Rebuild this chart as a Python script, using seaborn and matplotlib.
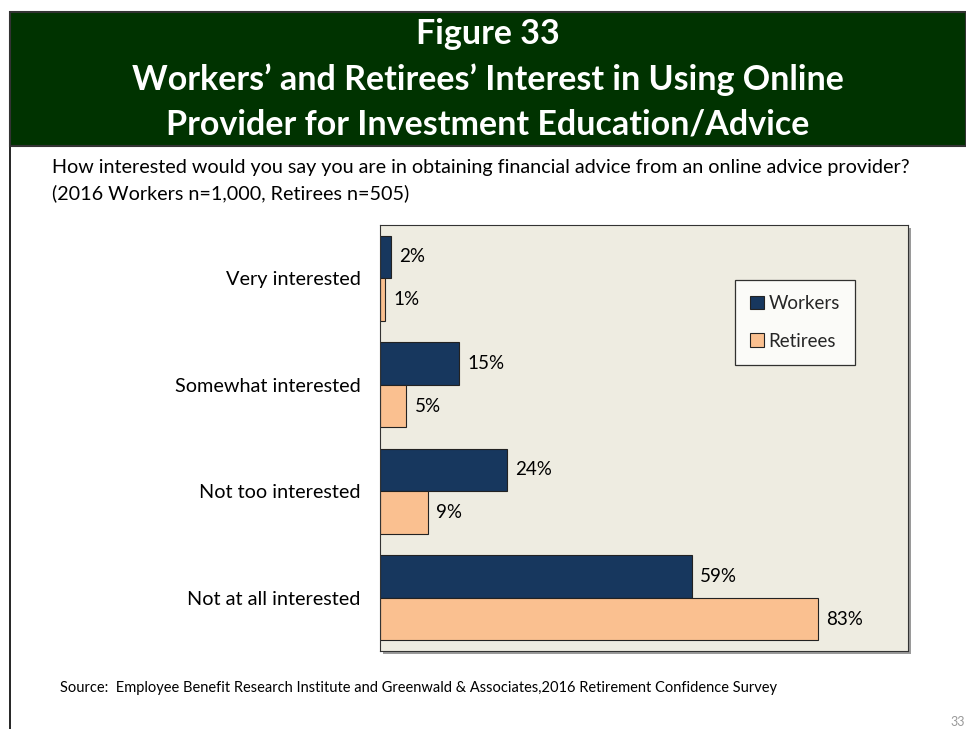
import matplotlib
matplotlib.use("Agg")
import matplotlib.pyplot as plt
import seaborn as sns
import pandas as pd
from matplotlib.patches import Rectangle
from matplotlib.lines import Line2D

categories = ["Very interested", "Somewhat interested", "Not too interested", "Not at all interested"]
workers = [2, 15, 24, 59]
retirees = [1, 5, 9, 83]
series = ["Workers", "Retirees"]
colors = {"Workers": "#17375E", "Retirees": "#FAC090"}

df = pd.DataFrame({
    "category": categories * 2,
    "value": workers + retirees,
    "group": ["Workers"] * len(categories) + ["Retirees"] * len(categories),
})

sns.set_theme(style="white")
plt.rcParams['font.family'] = ['Lato', 'DejaVu Sans']

W, H = 966, 729
fig = plt.figure(figsize=(W / 100, H / 100), dpi=100)
fig.patch.set_facecolor("white")

def fx(x): return x / W
def fy(y): return 1 - y / H

# Title band
fig.patches.append(Rectangle((fx(10), fy(146)), fx(956), (134) / H, transform=fig.transFigure,
                             facecolor="#003300", edgecolor="#333333", linewidth=1.5, zorder=-2))
fig.lines.append(Line2D([fx(10), fx(10)], [fy(146), 0], transform=fig.transFigure, color="black",
                        linewidth=1.2, zorder=-2))

fig.text(fx(488), fy(34), "Figure 33", ha="center", va="center", color="white", fontsize=24.5, fontweight="bold")
fig.text(fx(488), fy(80), "Workers\u2019 and Retirees\u2019 Interest in Using Online", ha="center", va="center",
         color="white", fontsize=24.5, fontweight="bold")
fig.text(fx(488), fy(124), "Provider for Investment Education/Advice", ha="center", va="center",
         color="white", fontsize=24.5, fontweight="bold")

fig.text(fx(52), fy(168), "How interested would you say you are in obtaining financial advice from an online advice provider?",
         ha="left", va="center", fontsize=14.2, color="black")
fig.text(fx(52), fy(193), "(2016 Workers n=1,000, Retirees n=505)", ha="left", va="center", fontsize=14.2, color="black")

fig.text(fx(60), fy(688), "Source:  Employee Benefit Research Institute and Greenwald & Associates,2016 Retirement Confidence Survey",
         ha="left", va="center", fontsize=10.5, color="black")
fig.text(fx(950), fy(722), "33", ha="left", va="center", fontsize=9, color="#999999")

# Plot area shadow
fig.patches.append(Rectangle((fx(383), fy(654)), (908 - 380) / W, (651 - 225) / H, transform=fig.transFigure,
                             facecolor="#9a9a9a", edgecolor="none", zorder=-1))

ax = fig.add_axes([fx(380), fy(651), (908 - 380) / W, (651 - 225) / H])
ax.set_zorder(1)
ax.set_facecolor("#EEECE1")
sns.barplot(data=df, y="category", x="value", hue="group", order=categories, hue_order=series,
            palette=colors, orient="h", width=0.8, ax=ax, edgecolor="#222222", linewidth=0.8, saturation=1,
            legend=True)
ax.set_xlim(0, 100)
ax.set_ylim(3.5, -0.5)
ax.set_xlabel("")
ax.set_ylabel("")
ax.set_xticks([])
ax.tick_params(axis="y", length=0, pad=14, labelsize=14.3, labelcolor="black")
for s in ax.spines.values():
    s.set_visible(True)
    s.set_color("#333333")
    s.set_linewidth(0.8)

for cont in ax.containers:
    ax.bar_label(cont, labels=[f"{v:.0f}%" for v in cont.datavalues], padding=6, fontsize=13.5, color="black")

leg = ax.legend(loc="upper left", bbox_to_anchor=((735 - 380) / 528, 1 - (280 - 225) / 426),
                frameon=True, fancybox=False, edgecolor="black", fontsize=13.5, handlelength=0.75,
                handleheight=0.75, handletextpad=0.25, labelspacing=1.1, borderpad=0.8, borderaxespad=0)
leg.get_frame().set_linewidth(0.9)
leg.get_frame().set_facecolor("white")

fig.savefig("out.png", dpi=100, facecolor="white")
